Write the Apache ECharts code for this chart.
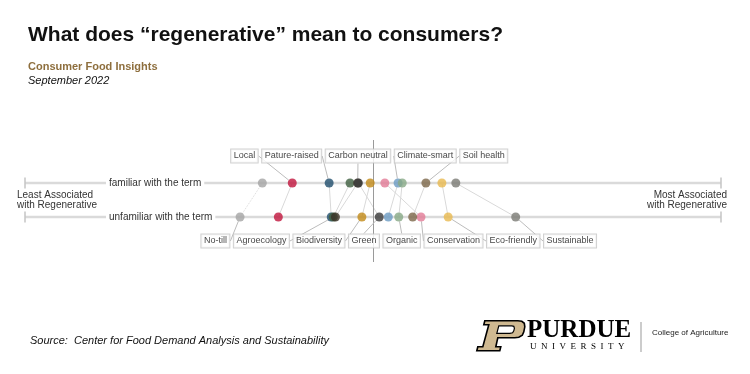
<!DOCTYPE html>
<html><head><meta charset="utf-8">
<script src="https://cdn.jsdelivr.net/npm/echarts@6/dist/echarts.min.js"></script>
<style>html,body{margin:0;padding:0;background:#fff}#c{width:750px;height:374px}</style>
</head><body><div id="c"></div>
<script>
// ---- data (association score, 0 = least, 100 = most associated with "regenerative") ----
const terms      = ['No-till','Local','Pature-raised','Agroecology','Carbon neutral','Biodiversity','Green','Conservation','Climate-smart','Organic','Soil health','Eco-friendly','Sustainable'];
const familiar   = [34.1, 38.4, 43.7, 46.7, 47.8, 49.6, 47.9, 51.7, 53.6, 54.2, 57.6, 59.9, 61.9];
const unfamiliar = [30.9, 36.4, 44.0, 44.3, 44.6, 48.4, 50.9, 56.9, 52.2, 53.7, 55.7, 60.8, 70.5];
const labelRow   = ['bottom','top','top','bottom','top','bottom','bottom','bottom','top','bottom','top','bottom','bottom'];
const rowNames   = ['familiar with the term','unfamiliar with the term'];
const colors     = ['#a4a4a4','#c0143c','#1f4d6d','#3e5f40','#3b3227','#c28a17','#3a3a3a','#e27b96','#6b9bc3','#87a986','#7c6649','#e8b94f','#7a7a74'];

const FONT = "'Liberation Sans', Arial, sans-serif";
const chart = echarts.init(document.getElementById('c'), null, {renderer:'canvas'});

const base = {
  animation:false,
  grid:{left:25,right:29,top:140,bottom:112},
  xAxis:{type:'value',min:0,max:100,show:false},
  yAxis:{type:'value',min:-1.3237,max:2.2643,show:false},
  series:[]
};

function buildSeries(layoutMap){
  const s = [];
  [1,0].forEach((yv,ri)=>{
    const ser = {type:'line',silent:true,z:1,data:[[0,yv],[100,yv]],
      symbol:'rect',symbolSize:[1.5,11],itemStyle:{color:'#c4c4c4'},
      lineStyle:{color:'#dadada',width:2.5}};
    if(ri===0) ser.markLine = {silent:true,symbol:'none',label:{show:false},
        lineStyle:{color:'#9a9a9a',width:1,type:'solid'},data:[{xAxis:50}]};
    s.push(ser);
  });
  terms.forEach((t,i)=>{
    s.push({type:'line',silent:true,z:2,symbol:'none',
      data:[[familiar[i],1],[unfamiliar[i],0]],
      lineStyle:{color:'#d9d9d9',width:1,type: i===0?'dotted':'solid'}});
  });
  const mkScatter=(vals,yv,row)=>{
    const o = {
      type:'scatter',z:5,symbolSize:9,
      data:vals.map((v,i)=>({value:[v,yv],name:terms[i],itemStyle:{color:colors[i]},
        label:{show:labelRow[i]===row}})),
      label:{show:true,formatter:'{b}',fontSize:9,fontFamily:FONT,color:'#111',
        backgroundColor:'#fff',borderColor:'#c6c6c6',borderWidth:1,padding:[2,2.5,2,2.5]},
      labelLine:{show:true,lineStyle:{color:'#bcbcbc',width:1}}
    };
    if(layoutMap) o.labelLayout = function(p){
      const k=layoutMap[p.seriesIndex+'_'+p.dataIndex];
      if(!k) return {};
      return {x:k.x,y:k.y,align:'center',verticalAlign:'middle'};
    };
    return o;
  };
  s.push(mkScatter(familiar,1,'top'));
  s.push(mkScatter(unfamiliar,0,'bottom'));
  return s;
}

const ES = '\u2002';
const graphic = [
  {type:'text',left:28,top:25,z:100,style:{text:'What does \u201cregenerative\u201d mean to consumers?',font:"bold 21px "+FONT,fill:'#111'}},
  {type:'text',left:28,top:61,z:100,style:{text:'Consumer Food Insights',font:"bold 11px "+FONT,fill:'#8e6f3e'}},
  {type:'text',left:28,top:75,z:100,style:{text:'September 2022',font:"italic 11px "+FONT,fill:'#111'}},
  {type:'text',left:17,top:190,z:100,style:{text:'Least Associated',font:"10px "+FONT,fill:'#333'}},
  {type:'text',left:17,top:200,z:100,style:{text:'with Regenerative',font:"10px "+FONT,fill:'#333'}},
  {type:'text',right:23,top:190,z:100,style:{text:'Most Associated',font:"10px "+FONT,fill:'#333'}},
  {type:'text',right:23,top:200,z:100,style:{text:'with Regenerative',font:"10px "+FONT,fill:'#333'}},
  {type:'text',left:106,top:177,z:100,style:{text:rowNames[0],font:"10px "+FONT,fill:'#333',backgroundColor:'#fff',padding:[1,3,1,3]}},
  {type:'text',left:106,top:211,z:100,style:{text:rowNames[1],font:"10px "+FONT,fill:'#333',backgroundColor:'#fff',padding:[1,3,1,3]}},
  {type:'text',left:30,top:335,z:100,style:{text:'Source:  Center for Food Demand Analysis and Sustainability',font:"italic 11px "+FONT,fill:'#111'}},
  {type:'group',left:476,top:320,z:100,children:[
    {type:'polygon',shape:{points:[[9,0],[42,0],[46,0.5],[48.5,2.5],[49,6],[48,11],[46.5,14.5],[43,16.5],[39,17],[22,17],[20,26],[25,26],[24,30],[1,30],[2,26],[7,26],[13,4],[8,4]]},style:{fill:'#cfb991',stroke:'#000',lineWidth:1.6}},
    {type:'polygon',shape:{points:[[23,5],[36,5],[38,5.5],[38.6,7.5],[38,10],[36.8,12],[34,12.5],[21,12.5]]},style:{fill:'#fff',stroke:'#000',lineWidth:1.2}}
  ]},
  {type:'text',left:527,top:318,z:100,style:{text:'PURDUE',font:"bold 25px 'Liberation Serif', serif",fill:'#000'}},
  {type:'text',left:530,top:342,z:100,style:{text:['U','N','I','V','E','R','S','I','T','Y'].join(ES),font:"9px 'Liberation Serif', serif",fill:'#000'}},
  {type:'line',z:100,shape:{x1:641,y1:322,x2:641,y2:352},style:{stroke:'#999',lineWidth:1}},
  {type:'text',left:652,top:329,z:100,style:{text:'College of Agriculture',font:"8px "+FONT,fill:'#222'}}
];

base.series = buildSeries(null);
base.graphic = graphic;
chart.setOption(base);

const ctx = document.createElement('canvas').getContext('2d');
ctx.font = "9px "+FONT;
function pack(items,gap){
  const n=items.length, off=[0];
  for(let i=1;i<n;i++) off[i]=off[i-1]+(items[i-1].w+items[i].w)/2+gap;
  const blocks=[];
  items.forEach((it,i)=>{
    blocks.push({sum:it.a-off[i],cnt:1});
    while(blocks.length>1){
      const p=blocks[blocks.length-2], b=blocks[blocks.length-1];
      if(p.sum/p.cnt>b.sum/b.cnt){p.sum+=b.sum;p.cnt+=b.cnt;blocks.pop();} else break;
    }
  });
  const t=[]; blocks.forEach(b=>{for(let k=0;k<b.cnt;k++) t.push(b.sum/b.cnt);});
  items.forEach((it,i)=>{it.c=t[i]+off[i];});
}
const layoutMap={};
const scatterStart = base.series.length-2;
[['top',familiar,scatterStart,156],['bottom',unfamiliar,scatterStart+1,241]].forEach(([row,vals,si,yPix])=>{
  const items=[];
  terms.forEach((t,i)=>{
    if(labelRow[i]!==row) return;
    items.push({i,a:chart.convertToPixel({xAxisIndex:0},vals[i]),w:ctx.measureText(t).width+7});
  });
  items.sort((p,q)=>p.a-q.a);
  pack(items,2.5);
  items.forEach(it=>{layoutMap[si+'_'+it.i]={x:it.c,y:yPix};});
});
base.series = buildSeries(layoutMap);
chart.setOption(base,true);
</script></body></html>
